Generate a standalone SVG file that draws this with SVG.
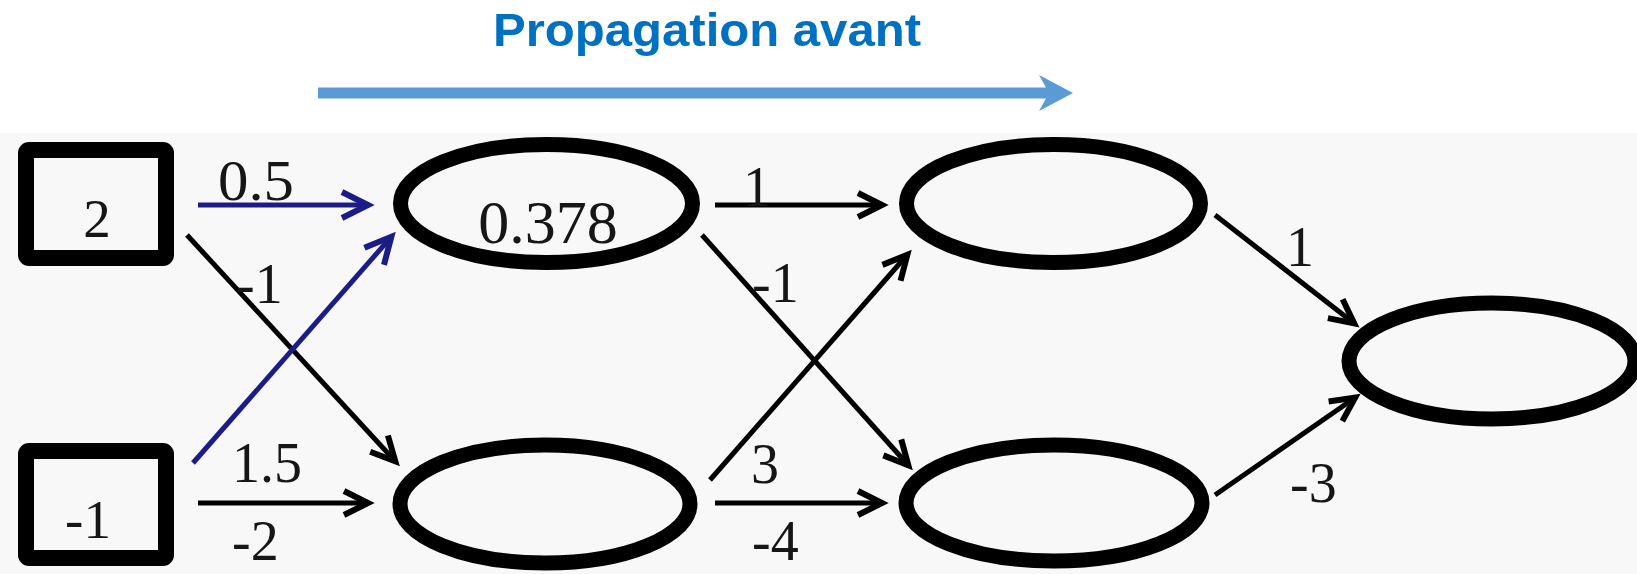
<svg xmlns="http://www.w3.org/2000/svg" width="1637" height="574" viewBox="0 0 1637 574">
  <style>
    .title { font-family: "Liberation Sans", "DejaVu Sans", sans-serif; font-weight: bold; font-size: 47px; fill: #0070C0; }
    .num { font-family: "Liberation Serif", "Times New Roman", serif; fill: #141414; }
    .lbl { font-size: 56px; }
    .node { fill: none; stroke: #000; stroke-width: 15; }
    .box { fill: none; stroke: #000; stroke-width: 16; }
    .wire { fill: none; stroke: #000; stroke-width: 5; marker-end: url(#headK); }
    .wire.blue { stroke: #1F1F86; marker-end: url(#headB); }
  </style>
  <defs>
    <marker id="headK" markerUnits="userSpaceOnUse" orient="auto" overflow="visible" markerWidth="1" markerHeight="1" refX="0" refY="0">
      <path d="M-25,-12 L-1,0 L-25,12" fill="none" stroke="#000" stroke-width="6" stroke-linejoin="miter"/>
    </marker>
    <marker id="headB" markerUnits="userSpaceOnUse" orient="auto" overflow="visible" markerWidth="1" markerHeight="1" refX="0" refY="0">
      <path d="M-27,-13 L-1,0 L-27,13" fill="none" stroke="#1F1F86" stroke-width="6" stroke-linejoin="miter"/>
    </marker>
    <filter id="soft" x="-5%" y="-5%" width="110%" height="110%">
      <feGaussianBlur stdDeviation="0.6"/>
    </filter>
  </defs>

  <rect x="0" y="0" width="1637" height="574" fill="#FFFFFF"/>

  <!-- heading and direction arrow -->
  <g id="heading">
    <text class="title" x="707" y="46" text-anchor="middle" textLength="428" lengthAdjust="spacingAndGlyphs">Propagation avant</text>
    <polygon points="318,87.5 1046,87.5 1039,75 1073,93 1039,111 1046,98.5 318,98.5" fill="#5B9BD5"/>
  </g>

  <!-- network panel -->
  <g id="network" filter="url(#soft)">
    <rect x="0" y="133" width="1637" height="441" fill="#F8F8F8"/>

    <g id="connectors">
      <!-- input layer to hidden layer 1 -->
      <line class="wire blue" x1="198" y1="205" x2="369" y2="205"/>
      <line class="wire" x1="187" y1="235" x2="396" y2="462"/>
      <line class="wire blue" x1="193" y1="463" x2="392" y2="236"/>
      <line class="wire" x1="198" y1="503" x2="369" y2="503"/>
      <!-- hidden layer 1 to hidden layer 2 -->
      <line class="wire" x1="715" y1="205" x2="883" y2="205"/>
      <line class="wire" x1="702" y1="235" x2="909" y2="466"/>
      <line class="wire" x1="710" y1="480" x2="908" y2="254"/>
      <line class="wire" x1="715" y1="503" x2="883" y2="503"/>
      <!-- hidden layer 2 to output -->
      <line class="wire" x1="1215" y1="215" x2="1355" y2="324"/>
      <line class="wire" x1="1215" y1="495" x2="1356" y2="397"/>

      <!-- weights -->
      <text class="num lbl" x="218" y="200" textLength="76" lengthAdjust="spacingAndGlyphs">0.5</text>
      <text class="num lbl" x="236" y="303">-1</text>
      <text class="num lbl" x="232" y="482">1.5</text>
      <text class="num lbl" x="232" y="560">-2</text>
      <text class="num lbl" x="757" y="206" text-anchor="middle" font-size="58">1</text>
      <text class="num lbl" x="752" y="302">-1</text>
      <text class="num lbl" x="765" y="483" text-anchor="middle">3</text>
      <text class="num lbl" x="752" y="560">-4</text>
      <text class="num lbl" x="1300" y="266" text-anchor="middle">1</text>
      <text class="num lbl" x="1290" y="502">-3</text>
    </g>

    <g id="in-top">
      <rect class="box" x="26" y="150" width="140" height="108" rx="3"/>
      <text class="num" x="97" y="237" font-size="55" text-anchor="middle">2</text>
    </g>
    <g id="in-bottom">
      <rect class="box" x="26" y="451" width="140" height="107" rx="3"/>
      <text class="num" x="88" y="538" font-size="55" text-anchor="middle">-1</text>
    </g>

    <g id="h1-top">
      <ellipse class="node" cx="546.5" cy="203.5" rx="146" ry="59"/>
      <text class="num" x="548" y="243" font-size="62" text-anchor="middle">0.378</text>
    </g>
    <g id="h1-bottom">
      <ellipse class="node" cx="545" cy="504" rx="145" ry="59"/>
    </g>
    <g id="h2-top">
      <ellipse class="node" cx="1053.5" cy="203.5" rx="147" ry="59"/>
    </g>
    <g id="h2-bottom">
      <ellipse class="node" cx="1054" cy="503" rx="148" ry="58"/>
    </g>
    <g id="out">
      <ellipse class="node" cx="1492" cy="361" rx="143" ry="58"/>
    </g>
  </g>
</svg>
